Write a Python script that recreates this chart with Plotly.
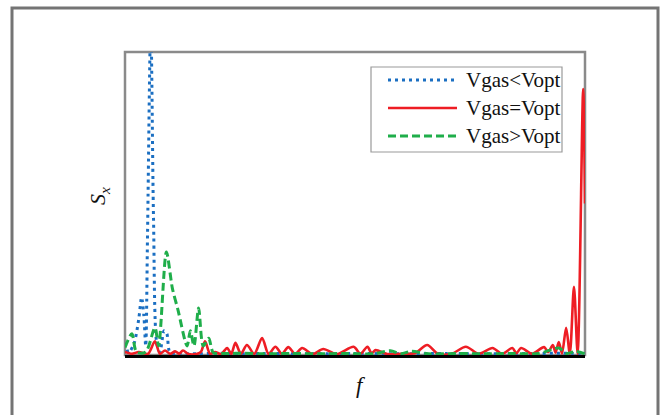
import plotly.graph_objects as go

# ---- data (x in arbitrary frequency units 0..100, y normalised spectrum) ----
blue_x = [0, 0.8, 2.0, 3.0, 3.6, 4.1, 4.5, 4.9, 5.6, 6.2, 6.9, 7.6, 8.5, 9.1, 9.8,
          12, 16, 20, 25, 30, 40, 50, 60, 70, 80, 90, 95, 100]
blue_y = [0.04, 0.008, 0.04, 0.12, 0.19, 0.13, 0.03, 0.4, 1.1, 0.45, 0.04, 0.01, 0.08, 0.07, 0.008,
          0.005, 0.004, 0.006, 0.004, 0.005, 0.004, 0.005, 0.004, 0.005, 0.004, 0.005, 0.006, 0.004]

red_x = [0, 1.5, 3, 5, 6.5, 7.6, 8.7, 9.8, 10.9, 11.8, 12.6, 13.8, 15.5, 16.5, 17.4, 18.5,
         19.6, 20.9, 22.2, 23.1, 24.0, 25.2, 26.5, 28.1, 29.8, 31.2, 32.7, 34.1, 35.5, 37.0,
         38.5, 40.8, 43.1, 46, 49.7, 51.2, 52.7, 53.6, 54.5, 57, 60, 63, 65.7, 68, 71, 74.1,
         76.9, 79.9, 82, 84.2, 85.1, 86.1, 88.5, 91.1, 92, 93, 93.6, 94.3, 95.0, 95.9, 96.7,
         97.6, 98.4, 99.6, 100]
red_y = [0.01, 0.004, 0.01, 0.004, 0.045, 0.004, 0.015, 0.004, 0.012, 0.004, 0.015, 0.003, 0.003, 0.01,
         0.045, 0.004, 0.01, 0.003, 0.023, 0.004, 0.04, 0.004, 0.033, 0.004, 0.056, 0.004, 0.027,
         0.004, 0.026, 0.004, 0.023, 0.003, 0.02, 0.003, 0.027, 0.004, 0.027, 0.006, 0.016, 0.003,
         0.004, 0.006, 0.033, 0.004, 0.004, 0.027, 0.004, 0.023, 0.004, 0.023, 0.006, 0.023, 0.004,
         0.026, 0.01, 0.033, 0.008, 0.043, 0.005, 0.09, 0.004, 0.225, 0.004, 0.878, 0.5]

green_x = [0, 1.5, 2.5, 4.5, 6.5, 7.3, 9.0, 10.3, 11.5, 13.5, 14.2, 15.0, 16.0, 17.0, 18.2, 19.2,
           22, 26, 30, 36, 42, 48, 54, 57.7, 60, 62.1, 66, 72, 78, 84, 90, 94.3, 96, 98, 100]
green_y = [0.025, 0.07, 0.01, 0.01, 0.09, 0.03, 0.34, 0.22, 0.15, 0.03, 0.08, 0.03, 0.155, 0.03, 0.055,
           0.008, 0.005, 0.006, 0.004, 0.005, 0.004, 0.005, 0.004, 0.014, 0.004, 0.012, 0.004, 0.005,
           0.004, 0.005, 0.005, 0.023, 0.005, 0.012, 0.004]

names = ["Vgas<Vopt", "Vgas=Vopt", "Vgas>Vopt"]
colors = ["#1b6fc2", "#ee1d24", "#1fae4a"]
dashes = ["3px,4px", "solid", "8px,4px"]
widths = [3, 2.6, 3]

SERIF = "Liberation Serif"

W, H = 660, 415
L, R, T, B = 125, 75, 52, 60
PW, PH = W - L - R, H - T - B


def px(x):
    return (x - L) / PW


def py(y):
    return (H - B - y) / PH


fig = go.Figure()
series = [(blue_x, blue_y), (red_x, red_y), (green_x, green_y)]
for (xs, ys), n, c, d, w in zip(series, names, colors, dashes, widths):
    fig.add_trace(go.Scatter(x=xs, y=ys, mode="lines", name=n,
                             line=dict(color=c, width=w, dash=d, shape="spline", smoothing=0.8),
                             showlegend=False))

shapes = []
# outer frame
shapes.append(dict(type="rect", xref="paper", yref="paper", x0=px(12), x1=px(658), y0=py(430), y1=py(8),
                   line=dict(color="#747474", width=3), layer="below"))
# plot box (gray left/top/right)
shapes.append(dict(type="rect", xref="paper", yref="paper", x0=0, x1=1, y0=0, y1=1,
                   line=dict(color="#8a8a8a", width=2.5), layer="below"))
# legend box
shapes.append(dict(type="rect", xref="paper", yref="paper", x0=px(371), x1=px(562), y0=py(152), y1=py(67),
                   line=dict(color="#9a9a9a", width=1.2), fillcolor="white", layer="above"))
annotations = []
rows = [80, 108, 136]
for n, c, d, w, ry in zip(names, colors, dashes, widths, rows):
    shapes.append(dict(type="line", xref="paper", yref="paper", x0=px(388), x1=px(457), y0=py(ry), y1=py(ry),
                       line=dict(color=c, width=w, dash=d), layer="above"))
    annotations.append(dict(xref="paper", yref="paper", x=px(464), y=py(ry), text=n, showarrow=False,
                            xanchor="left", yanchor="middle",
                            font=dict(family=SERIF, size=21, color="#111")))

annotations.append(dict(xref="paper", yref="paper", x=px(99), y=py(196), text="<i>S<sub>x</sub></i>",
                        showarrow=False, textangle=-90, xanchor="center", yanchor="middle",
                        font=dict(family=SERIF, size=22, color="#111")))
annotations.append(dict(xref="paper", yref="paper", x=px(361), y=py(385), text="<i>f</i>",
                        showarrow=False, xanchor="center", yanchor="middle",
                        font=dict(family=SERIF, size=23, color="#111")))

fig.update_layout(
    width=W, height=H, margin=dict(l=L, r=R, t=T, b=B),
    paper_bgcolor="white", plot_bgcolor="white",
    font=dict(family=SERIF),
    shapes=shapes, annotations=annotations, showlegend=False,
    xaxis=dict(range=[0, 100], showgrid=False, zeroline=False, showticklabels=False, ticks="",
               showline=True, linecolor="black", linewidth=3),
    yaxis=dict(range=[0, 1], showgrid=False, zeroline=False, showticklabels=False, ticks="",
               showline=False),
)

fig.write_html("out.html")
